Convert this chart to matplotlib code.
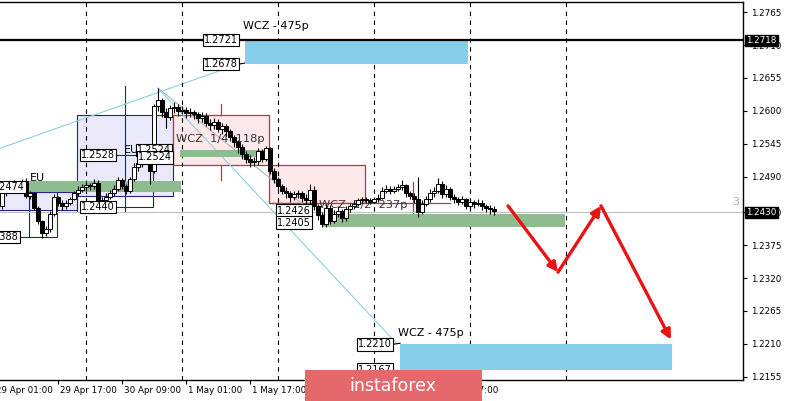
import matplotlib
matplotlib.use("Agg")
import matplotlib.pyplot as plt
import matplotlib.transforms as mtransforms
from matplotlib.patches import Rectangle

# hourly candles (bar index = hour), open = previous close
first_open = 1.2440
closes = [1.2462, 1.2470, 1.2474, 1.2478, 1.2472, 1.2482, 1.2458, 1.2462, 1.2438, 1.2415,
          1.2396, 1.2402, 1.2428, 1.2455, 1.2446, 1.2440, 1.2446, 1.2452, 1.2462, 1.2468,
          1.2472, 1.2476, 1.2474, 1.2480, 1.2442, 1.2450, 1.2456, 1.2462, 1.2470, 1.2484,
          1.2474, 1.2466, 1.2486, 1.2506, 1.2512, 1.2518, 1.2524, 1.2500, 1.2608, 1.2618,
          1.2598, 1.2590, 1.2604, 1.2606, 1.2600, 1.2602, 1.2596, 1.2598, 1.2594, 1.2588,
          1.2592, 1.2580, 1.2576, 1.2582, 1.2570, 1.2574, 1.2566, 1.2556, 1.2548, 1.2540,
          1.2528, 1.2520, 1.2514, 1.2516, 1.2532, 1.2520, 1.2538, 1.2500, 1.2486, 1.2474,
          1.2466, 1.2462, 1.2456, 1.2460, 1.2462, 1.2454, 1.2450, 1.2468, 1.2440, 1.2426,
          1.2410, 1.2438, 1.2416, 1.2428, 1.2432, 1.2420, 1.2436, 1.2440, 1.2444, 1.2450,
          1.2452, 1.2450, 1.2448, 1.2452, 1.2454, 1.2466, 1.2470, 1.2466, 1.2470, 1.2472,
          1.2476, 1.2462, 1.2458, 1.2452, 1.2430, 1.2444, 1.2452, 1.2462, 1.2466, 1.2478,
          1.2460, 1.2470, 1.2456, 1.2452, 1.2448, 1.2452, 1.2440, 1.2448, 1.2444, 1.2446,
          1.2440, 1.2438, 1.2436, 1.2432]
highs = [1.2468, 1.2476, 1.2480, 1.2484, 1.2482, 1.2486, 1.2488, 1.2466, 1.2464, 1.2440,
         1.2418, 1.2408, 1.2432, 1.2460, 1.2458, 1.2450, 1.2450, 1.2456, 1.2466, 1.2474,
         1.2478, 1.2482, 1.2480, 1.2486, 1.2484, 1.2456, 1.2462, 1.2468, 1.2476, 1.2490,
         1.2488, 1.2478, 1.2490, 1.2512, 1.2520, 1.2524, 1.2530, 1.2528, 1.2612, 1.2638,
         1.2622, 1.2604, 1.2610, 1.2614, 1.2612, 1.2608, 1.2606, 1.2604, 1.2602, 1.2598,
         1.2598, 1.2596, 1.2586, 1.2588, 1.2586, 1.2580, 1.2578, 1.2570, 1.2560, 1.2552,
         1.2544, 1.2532, 1.2526, 1.2522, 1.2538, 1.2536, 1.2542, 1.2540, 1.2504, 1.2490,
         1.2478, 1.2472, 1.2466, 1.2466, 1.2468, 1.2466, 1.2460, 1.2478, 1.2474, 1.2444,
         1.2430, 1.2444, 1.2442, 1.2434, 1.2440, 1.2436, 1.2440, 1.2446, 1.2450, 1.2454,
         1.2456, 1.2456, 1.2454, 1.2456, 1.2460, 1.2472, 1.2476, 1.2474, 1.2474, 1.2478,
         1.2484, 1.2478, 1.2466, 1.2462, 1.2490, 1.2450, 1.2458, 1.2470, 1.2472, 1.2488,
         1.2482, 1.2476, 1.2472, 1.2460, 1.2456, 1.2458, 1.2454, 1.2452, 1.2450, 1.2452,
         1.2450, 1.2444, 1.2442, 1.2440]
lows = [1.2436, 1.2458, 1.2466, 1.2470, 1.2468, 1.2470, 1.2454, 1.2452, 1.2434, 1.2410,
        1.2388, 1.2390, 1.2398, 1.2424, 1.2440, 1.2434, 1.2436, 1.2442, 1.2450, 1.2458,
        1.2464, 1.2466, 1.2468, 1.2470, 1.2434, 1.2438, 1.2446, 1.2452, 1.2458, 1.2466,
        1.2470, 1.2460, 1.2462, 1.2482, 1.2500, 1.2506, 1.2512, 1.2478, 1.2496, 1.2600,
        1.2590, 1.2572, 1.2584, 1.2596, 1.2592, 1.2594, 1.2588, 1.2590, 1.2586, 1.2580,
        1.2582, 1.2574, 1.2568, 1.2570, 1.2564, 1.2562, 1.2558, 1.2550, 1.2540, 1.2530,
        1.2520, 1.2512, 1.2506, 1.2508, 1.2510, 1.2514, 1.2516, 1.2494, 1.2480, 1.2468,
        1.2460, 1.2454, 1.2448, 1.2450, 1.2454, 1.2448, 1.2444, 1.2442, 1.2434, 1.2418,
        1.2405, 1.2406, 1.2410, 1.2412, 1.2422, 1.2414, 1.2416, 1.2430, 1.2436, 1.2440,
        1.2446, 1.2446, 1.2444, 1.2446, 1.2448, 1.2452, 1.2462, 1.2460, 1.2462, 1.2466,
        1.2468, 1.2456, 1.2452, 1.2446, 1.2422, 1.2428, 1.2440, 1.2448, 1.2456, 1.2462,
        1.2454, 1.2456, 1.2450, 1.2446, 1.2442, 1.2444, 1.2436, 1.2436, 1.2438, 1.2440,
        1.2434, 1.2430, 1.2428, 1.2426]

# axis
y_ticks = [1.2765, 1.2710, 1.2655, 1.2600, 1.2545, 1.2490, 1.2430, 1.2375, 1.2320, 1.2265, 1.2210, 1.2155]
x_tick_bars = [-2, 14, 30, 46, 62, 78, 94, 110]
x_tick_labels = ["29 Apr 01:00", "29 Apr 17:00", "30 Apr 09:00", "1 May 01:00", "1 May 17:00",
                 "4 May 09:00", "5 May 01:00", "5 May 17:00"]
day_separators = [21, 45, 69, 93, 117, 141]
current_price = 1.2430
key_level = 1.2718

# zones: (start bar, end bar, top, bottom)
target_zones = [(60.75, 116.5, 1.2721, 1.2678), (99.5, 167.5, 1.2210, 1.2167)]
eu_boxes = [(-2, 18.75, 1.2464, 1.2434), (18.75, 42.75, 1.2593, 1.2458)]
green_bars = [(-2, 44.75, 1.2483, 1.2464), (44.5, 67.5, 1.2535, 1.2523), (80, 140.75, 1.2427, 1.2406)]
pink_boxes = [(42.75, 66.75, 1.2593, 1.2509), (66.75, 90.75, 1.2509, 1.2446)]

# forecast path (bar, price)
forecast = [(126.5, 1.2441), (139.0, 1.2330), (149.75, 1.2441), (167.25, 1.2217)]

# price labels: (right bar, price, text)
price_labels = [(59, 1.2719, "1.2721"), (59, 1.2678, "1.2678"),
                (97.5, 1.2209, "1.2210"), (97.5, 1.2167, "1.2167"),
                (28.2, 1.2526, "1.2528"), (42.2, 1.2535, "1.2524"), (42.5, 1.2522, "1.2524"),
                (28.2, 1.2439, "1.2440"), (5.6, 1.2472, "1.2474"), (4.2, 1.2389, "1.2388"),
                (77.2, 1.2433, "1.2426"), (77.2, 1.2413, "1.2405")]

fig = plt.figure(figsize=(7.86, 4.01), dpi=100)
ax = fig.add_axes([0, 21 / 401, 743 / 786, 378 / 401])
ax.set_xlim(-0.5, 185.25)
ax.set_ylim(1.21495, 1.27822)

for s in ["left"]:
    ax.spines[s].set_visible(False)
for s in ["right", "bottom", "top"]:
    ax.spines[s].set_linewidth(1.0)

ax.yaxis.tick_right()
ax.set_yticks(y_ticks)
ax.set_yticklabels([f"{v:.4f}" for v in y_ticks])
ax.tick_params(axis="y", direction="out", length=3, labelsize=6.3, pad=2.5, width=0.8)
ax.set_xticks([b for b in x_tick_bars if b >= 0])
ax.set_xticklabels([])
ax.tick_params(axis="x", direction="out", length=3, width=0.8)
bt = mtransforms.blended_transform_factory(ax.transData, ax.transAxes)
for b, lab in zip(x_tick_bars, x_tick_labels):
    ax.text(b + 0.4, -0.027, lab, transform=bt, ha="left", va="center", fontsize=6.3, clip_on=False)

# zones
for x0, x1, top, bot in eu_boxes:
    ax.add_patch(Rectangle((x0, bot), x1 - x0, top - bot, fc="#e9e9f9", ec="#23238c", lw=0.8, zorder=1))
for x0, x1, top, bot in pink_boxes:
    ax.add_patch(Rectangle((x0, bot), x1 - x0, top - bot, fc="#fde9ea", ec="#c8303c", lw=0.9, zorder=1))
for x0, x1, top, bot in green_bars:
    ax.add_patch(Rectangle((x0, bot), x1 - x0, top - bot, fc="#8fbc8f", ec="none", zorder=1.5))
for x0, x1, top, bot in target_zones:
    ax.add_patch(Rectangle((x0, bot), x1 - x0, top - bot, fc="#87ceeb", ec="none", zorder=1.5))

# session / structure lines
ax.plot([30.75, 30.75], [1.2642, 1.2430], color="#23238c", lw=0.8, zorder=1.2)
ax.plot([18.75, 18.75], [1.2458, 1.2430], color="#23238c", lw=0.8, zorder=1.2)
ax.plot([6.75, 6.75], [1.2462, 1.2389], color="#23238c", lw=0.8, zorder=1.2)
ax.plot([4.2, 13.75, 13.75, 5.6], [1.2389, 1.2389, 1.2473, 1.2473], color="#1e3a1e", lw=0.8, zorder=1.2)
ax.plot([28.2, 33.5], [1.2526, 1.2526], color="#1e3a1e", lw=0.8, zorder=1.2)
ax.plot([28.2, 37.75, 37.75, 33.5], [1.2439, 1.2439, 1.2526, 1.2526], color="#1e3a1e", lw=0.8, zorder=1.2)
ax.plot([54.75, 54.75], [1.2611, 1.2593], color="#c8303c", lw=0.9, zorder=1.2)
ax.plot([54.75, 54.75], [1.2509, 1.2484], color="#c8303c", lw=0.9, zorder=1.2)
ax.plot([66.75, 112], [1.2446, 1.2446], color="#c8303c", lw=0.9, zorder=1.2)
ax.plot([102.75, 102.75], [1.2481, 1.2422], color="#c8303c", lw=0.9, zorder=1.2)

# fan lines
ax.plot([-1.5, 59], [1.2535, 1.2678], color="#8ccfe2", lw=0.8, zorder=1.3)
ax.plot([39, 98.75], [1.2638, 1.2210], color="#8ccfe2", lw=0.8, zorder=1.3)
ax.plot([39, 77.5], [1.2638, 1.2431], color="#a8b8b8", lw=0.8, zorder=1.3)
ax.plot([59, 60.75], [1.2678, 1.2680], color="black", lw=0.8, zorder=1.3)
ax.plot([97.5, 99.5], [1.2209, 1.2211], color="black", lw=0.8, zorder=1.3)

# separators and levels
for b in day_separators:
    ax.axvline(b, color="black", lw=0.8, ls=(0, (4, 4)), zorder=1.4)
ax.axhline(current_price, color="#c0c0c0", lw=0.8, zorder=1.4)
ax.axhline(key_level, color="black", lw=1.6, zorder=1.6)

# text labels
ax.text(60.25, 1.2742, "WCZ - 475p", fontsize=8, ha="left", va="center", zorder=3)
ax.text(99, 1.2229, "WCZ - 475p", fontsize=8, ha="left", va="center", zorder=3)
ax.text(43.6, 1.2553, "WCZ  1/4  118p", fontsize=8.2, color="#333333", ha="left", va="center", zorder=1.8)
ax.text(79.3, 1.2443, "WCZ  1/2  237p", fontsize=8.2, color="#333333", ha="left", va="center", zorder=1.8)
ax.text(7, 1.2487, "EU", fontsize=8, ha="left", va="center", zorder=3)
ax.text(30.5, 1.2535, "EU", fontsize=8, ha="left", va="center", zorder=3)
ax.text(183.3, 1.2448, "3", fontsize=8, color="#b0b0b0", ha="center", va="center", zorder=3)

# candles
opens = [first_open] + closes[:-1]
for i, (o, h, l, c) in enumerate(zip(opens, highs, lows, closes)):
    ax.plot([i, i], [l, h], color="black", lw=0.8, zorder=2, solid_capstyle="butt")
    bot = min(o, c)
    hgt = max(abs(c - o), 0.00005)
    fc = "white" if c >= o else "black"
    ax.add_patch(Rectangle((i - 0.38, bot), 0.76, hgt, fc=fc, ec="black", lw=0.7, zorder=2.1))

for xr, p, t in price_labels:
    ax.text(xr, p, t, fontsize=7, ha="right", va="center", zorder=4,
            bbox=dict(boxstyle="square,pad=0.12", fc="white", ec="black", lw=0.8))

# forecast arrows
for (x0, y0), (x1, y1) in zip(forecast[:-1], forecast[1:]):
    ax.annotate("", xy=(x1, y1), xytext=(x0, y0), zorder=5,
                arrowprops=dict(arrowstyle="-|>", color="#e81414", lw=2.4, mutation_scale=14,
                                shrinkA=0, shrinkB=0))

# right axis markers
rt = mtransforms.blended_transform_factory(ax.transAxes, ax.transData)
for p in [key_level, current_price]:
    ax.text(1.004, p, f"{p:.4f}", transform=rt, fontsize=6.3, color="white", ha="left", va="center",
            clip_on=False, zorder=6, bbox=dict(boxstyle="square,pad=0.15", fc="black", ec="black"))

# logo
fig.patches.append(Rectangle((305 / 786, 0), 177 / 786, 31 / 401, transform=fig.transFigure,
                             fc="#e4686c", ec="none", zorder=10))
fig.text(393 / 786, 15 / 401, "instaforex", color="white", fontsize=12.5, ha="center", va="center", zorder=11)

fig.savefig("out.png", dpi=100)
